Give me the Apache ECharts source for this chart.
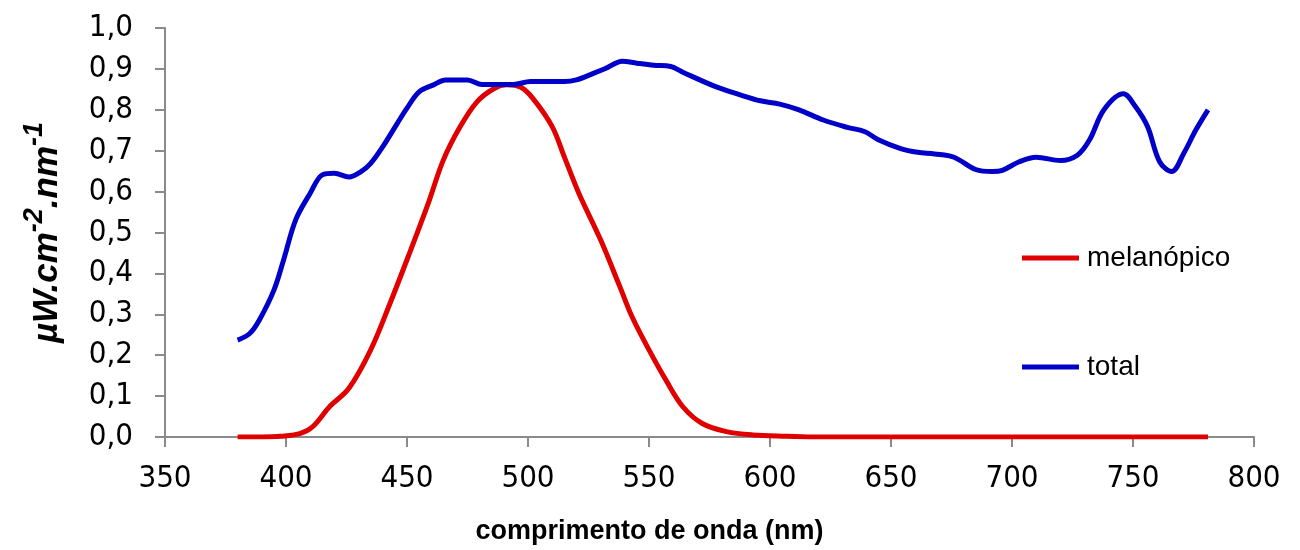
<!DOCTYPE html>
<html>
<head>
<meta charset="utf-8">
<script src="https://cdn.jsdelivr.net/npm/echarts@6/dist/echarts.min.js"></script>
<style>
html,body{margin:0;padding:0;background:#fff;}
#chart{width:1300px;height:550px;}
</style>
</head>
<body>
<div id="chart"></div>
<script>
// wavelength (nm) and values
const totalX = [380,385,389,395,399,404,410,415,420,426,431,435,440,446,450,455,461,466,475,481,490,494,501,508,515,520,527,532,539,545,552,559,564,577,588,596,604,612,622,632,639,645,654,661,668,676,685,692,696,703,710,720,727,732,738,746,751,756,761,766,771,776,781];
const totalY = [0.237,0.253,0.286,0.359,0.433,0.531,0.596,0.641,0.645,0.636,0.649,0.669,0.710,0.767,0.804,0.844,0.861,0.873,0.873,0.862,0.862,0.862,0.869,0.869,0.869,0.873,0.889,0.901,0.919,0.914,0.909,0.906,0.892,0.858,0.836,0.822,0.814,0.800,0.775,0.757,0.747,0.726,0.705,0.696,0.692,0.684,0.654,0.649,0.652,0.673,0.684,0.676,0.689,0.726,0.800,0.839,0.808,0.759,0.673,0.649,0.694,0.751,0.800];

const melX = [380,390,398,406,411,418,426,435,443,451,459,465,472,479,486,491,497,502,510,515,521,530,538,543,550,557,564,572,582,593,607,620,781];
const melY = [0,0,0.002,0.009,0.025,0.074,0.119,0.213,0.327,0.449,0.575,0.677,0.759,0.820,0.852,0.861,0.855,0.828,0.759,0.685,0.596,0.482,0.367,0.294,0.213,0.139,0.074,0.033,0.013,0.005,0.002,0,0];

const seriesNames = ['melanópico','total'];
const xTicks = {min:350, max:800, interval:50};
const yTicks = {min:0, max:1, interval:0.1};

const pairs = (xs, ys) => xs.map((x,i)=>[x, ys[i]]);

const chart = echarts.init(document.getElementById('chart'), null, {renderer:'canvas'});
const axisGray = '#8a8a8a';
const tickFont = "'DejaVu Sans Condensed', 'DejaVu Sans', sans-serif";
const arial = "'Liberation Sans', Arial, sans-serif";

chart.setOption({
  animation:false,
  backgroundColor:'#fff',
  grid:{left:165, right:46, top:28, bottom:113, containLabel:false},
  legend:{
    orient:'vertical',
    left:1022, top:243, padding:0,
    itemWidth:57, itemHeight:5, itemGap:79,
    icon:'rect',
    data:seriesNames,
    textStyle:{fontFamily:arial, fontSize:28, color:'#000', lineHeight:30, padding:[0,0,0,3]}
  },
  xAxis:{
    type:'value', min:xTicks.min, max:xTicks.max, interval:xTicks.interval,
    axisLine:{show:true, lineStyle:{color:axisGray, width:2}},
    axisTick:{show:true, length:10, lineStyle:{color:axisGray, width:2}},
    splitLine:{show:false},
    axisLabel:{fontFamily:tickFont, fontSize:31, color:'#000', margin:26},
    name:'comprimento de onda (nm)',
    nameLocation:'middle', nameGap:81,
    nameTextStyle:{fontFamily:arial, fontSize:27, fontWeight:'bold', color:'#000', padding:[0,120,0,0]}
  },
  yAxis:{
    type:'value', min:yTicks.min, max:yTicks.max, interval:yTicks.interval,
    axisLine:{show:true, lineStyle:{color:axisGray, width:2}},
    axisTick:{show:true, length:10, lineStyle:{color:axisGray, width:2}},
    splitLine:{show:false},
    axisLabel:{fontFamily:tickFont, fontSize:31, color:'#000', margin:32,
      formatter:v=>v.toFixed(1).replace('.',',')},
    name:'{b|µW.cm}{s|-2}{b|.nm}{s|-1}',
    nameLocation:'middle', nameGap:100, nameRotate:90,
    nameTextStyle:{
      fontFamily:arial, fontWeight:'bold', fontStyle:'italic', color:'#000',
      rich:{
        b:{fontFamily:arial, fontSize:35, fontWeight:'bold', fontStyle:'italic', color:'#000', lineHeight:44, verticalAlign:'bottom'},
        s:{fontFamily:arial, fontSize:27, fontWeight:'bold', fontStyle:'italic', color:'#000', lineHeight:44, verticalAlign:'top'}
      }
    }
  },
  series:[
    {name:seriesNames[0], type:'line', data:pairs(melX, melY), showSymbol:false, smooth:0.35,
      lineStyle:{color:'#e00000', width:5}, itemStyle:{color:'#e00000'}, z:2},
    {name:seriesNames[1], type:'line', data:pairs(totalX, totalY), showSymbol:false, smooth:0.35,
      lineStyle:{color:'#0000c8', width:5}, itemStyle:{color:'#0000c8'}, z:3}
  ]
});
</script>
</body>
</html>
